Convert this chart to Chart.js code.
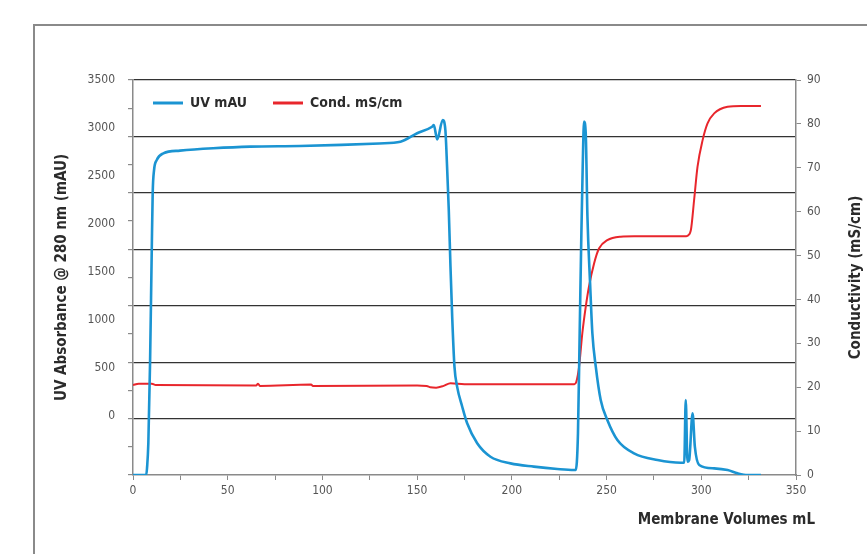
<!DOCTYPE html>
<html>
<head>
<meta charset="utf-8">
<script src="https://cdn.jsdelivr.net/npm/chart.js@4/dist/chart.umd.min.js"></script>
<style>
  body { margin: 0; background: #fff; }
  #wrap { position: relative; width: 867px; height: 554px; overflow: hidden; }
  #frame { position: absolute; left: 33px; top: 24px; width: 900px; height: 600px;
           border-left: 2.5px solid #8a8a8a; border-top: 2.5px solid #8a8a8a; }
  #chart { position: absolute; left: 0; top: 0; }
</style>
</head>
<body>
<div id="wrap">
  <div id="frame"></div>
  <canvas id="chart" width="867" height="554"></canvas>
</div>
<script>
// UV absorbance trace (mL, mAU)
var uvVolume = [0, 7.0, 7.4, 8.1, 9.0, 9.9, 10.4, 11.1, 12.5, 16, 24.8, 42.3, 61.9, 88, 110, 130,
  141.2, 150, 157.9, 158.8, 160.6, 163.5, 164.9, 165.8, 166.7, 167.6, 168.5, 169.7, 171.1, 173.8,
  176.4, 181.7, 188.7, 199.3, 211.6, 224, 232.8, 233.7, 234.9, 235.8, 236.7, 237.4, 238.1, 239.0,
  239.9, 241.3, 242.5, 244.3, 246.9, 250.4, 255.7, 264.5, 276.9, 289.2, 291.0, 291.8, 292.7, 293.6,
  295.4, 296.6, 298.9, 306.8, 313.9, 319.2, 324.5, 331.5];
var uvValue = [0, 0, 60, 283, 990, 1994, 2500, 2700, 2790, 2850, 2874, 2895, 2910, 2915, 2925, 2938,
  2953, 3028, 3086, 3100, 2974, 3146, 3057, 2732, 2348, 1846, 1403, 960, 783, 605,
  458, 281, 162, 103, 74, 53, 44, 44, 369, 1257, 2143, 2732, 3131, 3028,
  2289, 1699, 1256, 960, 665, 487, 310, 192, 133, 109, 109, 665, 118, 133,
  547, 251, 89, 59, 44, 15, 0, 0];

// conductivity trace (mL, mS/cm)
var condVolume = [0, 3, 10, 12, 65, 66, 67, 94, 95, 150, 155, 157, 160, 164, 167.6, 175, 233, 234,
  235.5, 237.2, 239, 240.7, 243.4, 246, 250.4, 257.5, 264.5, 292, 292.7, 294.5, 296.2, 298,
  300.7, 303.3, 306.8, 313.9, 320.9, 331.5];
var condValue = [20.5, 20.8, 20.8, 20.5, 20.4, 20.8, 20.3, 20.6, 20.3, 20.4, 20.3, 20.0, 19.9, 20.3, 20.9, 20.7, 20.7, 21.2,
  24.7, 32.3, 38.3, 42.9, 48.2, 51.6, 53.5, 54.3, 54.4, 54.4, 54.5, 55.8, 62.6, 70.2,
  76.3, 80.1, 82.4, 83.9, 84.1, 84.1];

var uvTickLabels = [0, 500, 1000, 1500, 2000, 2500, 3000, 3500];
var seriesNames = ["UV mAU", "Cond. mS/cm"];

var tickFont = "'Liberation Sans Narrow', 'DejaVu Sans Condensed', sans-serif";
var titleColor = "#2b2b2b";
var tickColor = "#555";
var axisColor = "#8a8a8a";

var uvPoints = uvVolume.map(function(v, i) { return { x: v, y: uvValue[i] }; });
var condPoints = condVolume.map(function(v, i) { return { x: v, y: condValue[i] }; });

// titles outside the plot that chart.js can't rotate/place the same way
var outerTitles = {
  id: "outerTitles",
  afterLayout: function(chart) {
    // move the top legend down into the plot, like the original
    var lg = chart.legend, area = chart.chartArea;
    var dy = area.top - 10 - lg.top, dx = area.left - 6 - lg.left;
    lg.top += dy; lg.bottom += dy;
    lg.left += dx; lg.right += dx;
  },
  afterDraw: function(chart) {
    var ctx = chart.ctx;
    var x = chart.scales.x, y2 = chart.scales.y2;
    ctx.save();
    ctx.fillStyle = titleColor;
    ctx.font = "bold 15px " + tickFont;
    ctx.textBaseline = "middle";
    ctx.textAlign = "right";
    ctx.fillText("Membrane Volumes mL", x.right + 19, x.top + 45);
    ctx.translate(y2.right - 11, (y2.top + y2.bottom) / 2);
    ctx.rotate(-Math.PI / 2);
    ctx.textAlign = "center";
    ctx.fillText("Conductivity (mS/cm)", 0, 0);
    ctx.restore();
  }
};

var ctx = document.getElementById("chart").getContext("2d");
var myChart = new Chart(ctx, {
  type: "line",
  data: {
    datasets: [
      {
        label: seriesNames[0],
        data: uvPoints,
        yAxisID: "y",
        borderColor: "#1b94d2",
        backgroundColor: "#1b94d2",
        borderWidth: 2.6,
        pointRadius: 0,
        cubicInterpolationMode: "monotone"
      },
      {
        label: seriesNames[1],
        data: condPoints,
        yAxisID: "y2",
        borderColor: "#e8262c",
        backgroundColor: "#e8262c",
        borderWidth: 2,
        pointRadius: 0,
        cubicInterpolationMode: "monotone"
      }
    ]
  },
  options: {
    responsive: false,
    devicePixelRatio: 1,
    animation: false,
    layout: { padding: { top: 30, left: 0, right: 0, bottom: 0 } },
    plugins: {
      tooltip: { enabled: false },
      legend: {
        position: "top",
        align: "start",
        fullSize: false,
        labels: {
          boxWidth: 30,
          boxHeight: 3,
          padding: 26,
          color: titleColor,
          font: { family: tickFont, size: 14, weight: "bold" },
          generateLabels: function(chart) {
            return Chart.defaults.plugins.legend.labels.generateLabels(chart).map(function(l) {
              l.lineWidth = 0;
              return l;
            });
          }
        }
      }
    },
    scales: {
      x: {
        type: "linear",
        min: 0,
        max: 350,
        grid: { drawOnChartArea: false, drawTicks: true, tickLength: 5, tickColor: axisColor },
        border: { color: axisColor, width: 1.5 },
        ticks: {
          stepSize: 25,
          autoSkip: false,
          maxRotation: 0,
          padding: 4,
          color: tickColor,
          font: { family: tickFont, size: 12 },
          callback: function(v) { return v % 50 === 0 ? String(v) : ""; }
        },
        afterFit: function(scale) { scale.height = 79; }
      },
      y: {
        position: "left",
        min: 0,
        max: 3500,
        weight: 0,
        grid: {
          color: function(c) {
            var v = c.tick.value;
            return v % 500 === 0 && v !== 0 ? "#333" : "rgba(0,0,0,0)";
          },
          lineWidth: 1.2,
          tickLength: 5,
          tickColor: axisColor
        },
        border: { color: axisColor, width: 1.5 },
        ticks: { stepSize: 250, display: false },
        afterFit: function(scale) { scale.width = 6; }
      },
      // labels for the UV axis sit on their own (offset) scale, as in the original figure
      yLabels: {
        position: "left",
        min: -610,
        max: 3500,
        bounds: "data",
        weight: 1,
        grid: { display: false },
        border: { display: false },
        ticks: {
          padding: 4,
          color: tickColor,
          font: { family: tickFont, size: 12 },
          callback: function(v) { return String(v); }
        },
        afterBuildTicks: function(scale) {
          scale.ticks = uvTickLabels.map(function(v) { return { value: v }; });
        },
        title: {
          display: true,
          text: "UV Absorbance @ 280 nm (mAU)",
          color: titleColor,
          font: { family: tickFont, size: 15, weight: "bold" },
          padding: { top: 53, bottom: 0 }
        },
        afterFit: function(scale) { scale.width = 127; }
      },
      y2: {
        position: "right",
        min: 0,
        max: 90,
        grid: { drawOnChartArea: false, tickLength: 5, tickColor: axisColor },
        border: { color: axisColor, width: 1.5 },
        ticks: {
          stepSize: 10,
          padding: 6,
          color: tickColor,
          font: { family: tickFont, size: 12 }
        },
        afterFit: function(scale) { scale.width = 71; }
      }
    }
  },
  plugins: [outerTitles]
});
</script>
</body>
</html>
